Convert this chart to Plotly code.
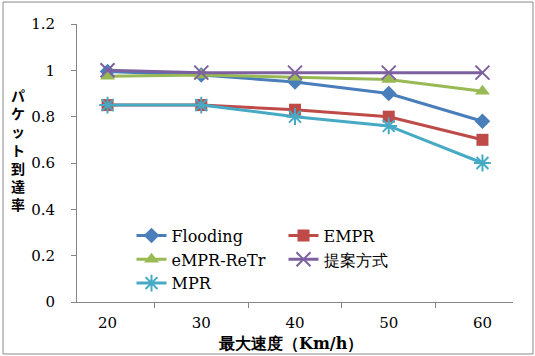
import plotly.graph_objects as go

speeds = ["20", "30", "40", "50", "60"]
flooding = [0.995, 0.98, 0.95, 0.90, 0.78]
empr = [0.85, 0.85, 0.83, 0.80, 0.70]
empr_retr = [0.975, 0.98, 0.97, 0.96, 0.91]
proposed = [1.0, 0.99, 0.99, 0.99, 0.99]
mpr = [0.85, 0.85, 0.80, 0.76, 0.60]

series = [
    ("Flooding", flooding, "#4A7EBB", "diamond", 12, 0),
    ("EMPR", empr, "#BE4B48", "square", 12, 0),
    ("eMPR-ReTr", empr_retr, "#98B954", "triangle-up", 13, 0),
    ("提案方式", proposed, "#7D60A0", "x-thin-open", 14, 2),
    ("MPR", mpr, "#46AAC5", "asterisk-open", 14, 2),
]

serif = "DejaVu Serif"
fig = go.Figure()
for name, vals, color, sym, size, lw in series:
    mk = dict(symbol=sym, size=size, color=color)
    if lw:
        mk["line"] = dict(color=color, width=lw)
    fig.add_trace(go.Scatter(
        x=speeds, y=vals, name=name, mode="lines+markers",
        line=dict(color=color, width=3), marker=mk,
    ))

fig.update_layout(
    width=535, height=356,
    margin=dict(l=77, r=22, t=24, b=54),
    paper_bgcolor="white", plot_bgcolor="white",
    font=dict(family=serif, size=15, color="black"),
    showlegend=True,
    legend=dict(
        orientation="h", x=0.125, y=0.30, xanchor="left", yanchor="top",
        entrywidth=107, entrywidthmode="pixels",
        bgcolor="rgba(0,0,0,0)", tracegroupgap=0,
        font=dict(family=serif, size=16),
        itemwidth=30,
    ),
    xaxis=dict(
        type="category", tickson="boundaries", ticks="outside", ticklen=5,
        tickcolor="#868686", showline=True, linecolor="#868686", linewidth=1,
        showgrid=False, zeroline=False, tickfont=dict(family=serif, size=15),
        ticklabelstandoff=7,
    ),
    yaxis=dict(
        range=[0, 1.2], tickvals=[0, 0.2, 0.4, 0.6, 0.8, 1, 1.2],
        ticktext=["0", "0.2", "0.4", "0.6", "0.8", "1", "1.2"],
        ticks="outside", ticklen=5, tickcolor="#868686",
        showline=True, linecolor="#868686", linewidth=1,
        showgrid=False, zeroline=False, tickfont=dict(family=serif, size=15),
        ticklabelstandoff=13,
    ),
)

fig.add_annotation(
    text="<b>パ<br>ケ<br>ッ<br>ト<br>到<br>達<br>率</b>",
    xref="paper", yref="paper", x=-0.136, y=0.55, xanchor="center", yanchor="middle",
    showarrow=False, font=dict(family="Noto Sans CJK JP", size=14), align="center",
)
fig.add_annotation(
    text="<b>最大速度（Km/h）</b>",
    xref="paper", yref="paper", x=0.49, y=-0.19, xanchor="center", yanchor="bottom",
    showarrow=False, font=dict(family=serif, size=16),
)
fig.add_shape(
    type="rect", xref="paper", yref="paper",
    x0=-0.1697, x1=1.0459, y0=-0.187, y1=1.079,
    line=dict(color="#8a8a8a", width=1), fillcolor="rgba(0,0,0,0)", layer="below",
)

fig.write_html("out.html")
